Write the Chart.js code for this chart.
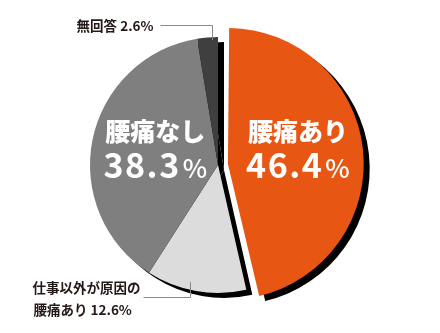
<!DOCTYPE html>
<html lang="ja">
<head>
<meta charset="utf-8">
<script src="https://cdn.jsdelivr.net/npm/chart.js@4.4.1/dist/chart.umd.min.js"></script>
<style>
html, body { margin: 0; padding: 0; background: #fff; }
</style>
</head>
<body>
<canvas id="myChart" width="440" height="333"></canvas>
<script>
// data (percent)
const labels = ['腰痛あり', '仕事以外が原因の腰痛あり', '腰痛なし', '無回答'];
const values = [46.4, 12.6, 38.3, 2.6];
const valueText = ['46.4', '12.6', '38.3', '2.6'];
const colors = ['#e85614', '#dcdcdc', '#7f7f7f', '#3f3f3f'];

const FONT = '"Noto Sans CJK JP", "Noto Sans", sans-serif';
const INK = '#231815';

// black drop shadow behind the whole pie
const shadowPlugin = {
    id: 'pieShadow',
    beforeDatasetsDraw(chart){
        const ctx = chart.ctx;
        ctx.save();
        ctx.translate(6, 5);
        chart.getDatasetMeta(0).data.forEach(arc => {
            const fake = Object.create(arc);
            fake.options = Object.assign({}, arc.options, {backgroundColor: '#000', borderColor: '#000'});
            arc.draw.call(fake, ctx);
        });
        ctx.restore();
    }
};

function arcPoint(arc, f, rk){
    const off = (arc.options.offset || 0) / 4;
    const half = (arc.startAngle + arc.endAngle) / 2;
    const a = arc.startAngle + f * (arc.endAngle - arc.startAngle);
    const r = arc.outerRadius * rk;
    return {
        x: arc.x + Math.cos(half) * off + Math.cos(a) * r,
        y: arc.y + Math.sin(half) * off + Math.sin(a) * r
    };
}

const textPlugin = {
    id: 'sliceText',
    afterDatasetsDraw(chart){
        const ctx = chart.ctx;
        const arcs = chart.getDatasetMeta(0).data;
        ctx.save();

        // big white labels inside the two large slices
        [[0, 0.55, -8], [2, 0.5, -4]].forEach(([i, rk, dy]) => {
            const p = arcPoint(arcs[i], 0.5, rk);
            const cy = p.y + dy;
            ctx.fillStyle = '#fff';
            ctx.textAlign = 'center';
            ctx.textBaseline = 'middle';
            ctx.font = '900 25px ' + FONT;
            ctx.fillText(labels[i], p.x, cy - 17);

            ctx.textAlign = 'left';
            ctx.textBaseline = 'alphabetic';
            ctx.font = 'bold 34px ' + FONT;
            ctx.letterSpacing = '1.5px';
            const w1 = ctx.measureText(valueText[i]).width;
            ctx.font = '500 26px ' + FONT;
            ctx.letterSpacing = '0px';
            const w2 = ctx.measureText('%').width;
            const x0 = p.x - (w1 + w2 + 2) / 2;
            ctx.font = 'bold 34px ' + FONT;
            ctx.letterSpacing = '1.5px';
            ctx.fillText(valueText[i], x0, cy + 29.5);
            ctx.font = '500 26px ' + FONT;
            ctx.letterSpacing = '0px';
            ctx.fillText('%', x0 + w1 + 2, cy + 29.5);
        });

        // small outside labels with leader lines
        ctx.strokeStyle = '#8a8a8a';
        ctx.lineWidth = 1;
        ctx.fillStyle = INK;
        ctx.font = 'bold 13.5px ' + FONT;
        ctx.textBaseline = 'middle';

        // 無回答
        let e = arcPoint(arcs[3], 0.7, 0.98);
        let ex = Math.round(e.x) + 0.5, ey = Math.round(e.y);
        ctx.beginPath();
        ctx.moveTo(ex, ey);
        ctx.lineTo(ex, ey - 14.5);
        ctx.lineTo(ex - 52, ey - 14.5);
        ctx.stroke();
        ctx.textAlign = 'right';
        ctx.fillText('無回答 ' + valueText[3] + '%', ex - 59, ey - 14.5);

        // 仕事以外が原因の腰痛あり
        e = arcPoint(arcs[1], 0.58, 0.94);
        ex = Math.round(e.x) + 0.5; ey = Math.round(e.y);
        ctx.beginPath();
        ctx.moveTo(ex, ey);
        ctx.lineTo(ex, ey + 15.5);
        ctx.lineTo(ex - 47, ey + 15.5);
        ctx.stroke();
        ctx.textAlign = 'left';
        ctx.fillText('仕事以外が原因の', ex - 158, ey + 6);
        ctx.fillText('腰痛あり ' + valueText[1] + '%', ex - 157, ey + 28);

        ctx.restore();
    }
};

window.onload = () => {
    const ctx = document.getElementById('myChart').getContext('2d');
    new Chart(ctx, {
        type: 'pie',
        data: {
            labels: labels,
            datasets: [{
                data: values,
                backgroundColor: colors,
                borderWidth: 0,
                offset: [40, 0, 0, 0]
            }]
        },
        options: {
            responsive: false,
            animation: false,
            radius: 128,
            layout: { padding: { left: 0, right: 4, top: 0, bottom: 3 } },
            plugins: {
                legend: { display: false },
                tooltip: { enabled: false }
            }
        },
        plugins: [shadowPlugin, textPlugin]
    });
};
</script>
</body>
</html>
